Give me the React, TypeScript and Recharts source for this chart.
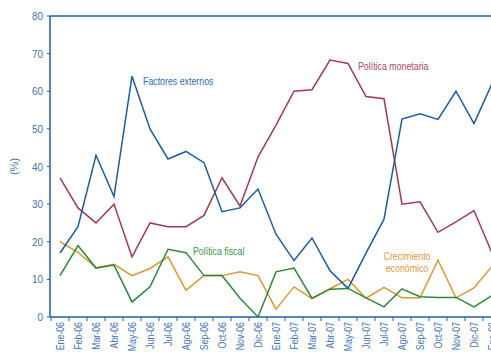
import { LineChart, Line, XAxis, YAxis, ReferenceLine } from "recharts"

const months = [
  "Ene-06", "Feb-06", "Mar-06", "Abr-06", "May-06", "Jun-06", "Jul-06", "Ago-06",
  "Sep-06", "Oct-06", "Nov-06", "Dic-06", "Ene-07", "Feb-07", "Mar-07", "Abr-07",
  "May-07", "Jun-07", "Jul-07", "Ago-07", "Sep-07", "Oct-07", "Nov-07", "Dic-07", "Ene-08",
]

const factoresExternos = [
  17, 24, 43, 32, 64, 50, 42, 44, 41, 28, 29, 34, 22, 15, 21, 12.3, 7.6, 17, 26, 52.6, 54, 52.5,
  60, 51.4, 62,
]
const politicaMonetaria = [
  37, 29, 25, 30, 16, 25, 24, 24, 27, 37, 29.5, 42.5, 51, 60, 60.4, 68.3, 67.4, 58.6, 58, 30,
  30.6, 22.5, 25.3, 28.3, 17,
]
const crecimientoEconomico = [
  20, 17.2, 13.1, 14, 11, 12.9, 16, 7.1, 11, 11, 12, 11, 2.1, 8, 4.9, 7.5, 10, 5, 7.9, 5.1, 5.1,
  15.1, 5.1, 7.7, 13.5,
]
const politicaFiscal = [
  11, 19, 13, 13.8, 4, 8, 18, 17.1, 11, 11, 5, 0, 12, 13, 5, 7.4, 7.6, 5.1, 2.7, 7.5, 5.4, 5.2,
  5.2, 2.7, 5.7,
]

const yTicks = [0, 10, 20, 30, 40, 50, 60, 70, 80]

const data = months.map((m, i) => ({
  mes: m,
  externos: factoresExternos[i],
  monetaria: politicaMonetaria[i],
  crecimiento: crecimientoEconomico[i],
  fiscal: politicaFiscal[i],
}))

const FONT = "'Liberation Sans', Arial, sans-serif"
const AXIS = "#1f5ea8"
const TICK_TEXT = "#3e72b6"
const NARROW = 0.8

function MonthTick(props: any) {
  const { x, y, payload, index } = props
  const half = 9
  return (
    <g>
      <line x1={x - half} x2={x - half} y1={y} y2={y + 4} stroke={AXIS} strokeWidth={1} />
      {index === months.length - 1 && (
        <line x1={x + half} x2={x + half} y1={y} y2={y + 4} stroke={AXIS} strokeWidth={1} />
      )}
      <text
        transform={`translate(${x + 4},${y + 5}) rotate(-90) scale(${NARROW},1)`}
        textAnchor="end"
        fontSize={11}
        fontFamily={FONT}
        fill={TICK_TEXT}
      >
        {payload.value}
      </text>
    </g>
  )
}

function ValueTick(props: any) {
  const { x, y, payload } = props
  return (
    <text
      transform={`translate(${x},${y + 4}) scale(0.9,1)`}
      textAnchor="end"
      fontSize={11}
      fontFamily={FONT}
      fill={TICK_TEXT}
    >
      {payload.value}
    </text>
  )
}

const labelStyle = (color: string, left: number, top: number): any => ({
  position: "absolute",
  left,
  top,
  color,
  fontFamily: FONT,
  fontSize: 11,
  lineHeight: "12px",
  whiteSpace: "nowrap",
  transform: `scaleX(${NARROW})`,
  transformOrigin: "left top",
})

export default function App() {
  return (
    <div
      style={{
        position: "absolute",
        left: 0,
        top: 0,
        width: 491,
        height: 352,
        overflow: "hidden",
        background: "#fff",
      }}
    >
      <LineChart
        width={500}
        height={352}
        data={data}
        margin={{ top: 16, right: 0, bottom: 0, left: 0 }}
      >
        <XAxis
          dataKey="mes"
          interval={0}
          padding={{ left: 10, right: 8 }}
          height={35}
          tickSize={0}
          tickMargin={0}
          tick={<MonthTick />}
          axisLine={{ stroke: AXIS, strokeWidth: 1.5 }}
        />
        <YAxis
          width={50}
          domain={[0, 80]}
          ticks={yTicks}
          interval={0}
          tickSize={3}
          tickMargin={4}
          axisLine={{ stroke: AXIS, strokeWidth: 1.5 }}
          tickLine={{ stroke: AXIS }}
          tick={<ValueTick />}
          label={{
            value: "(%)",
            angle: -90,
            position: "insideLeft",
            offset: 14,
            fill: TICK_TEXT,
            fontSize: 11,
            fontFamily: FONT,
            style: { textAnchor: "middle" },
          }}
        />
        <ReferenceLine y={80} stroke={AXIS} strokeWidth={1.5} />
        <Line
          dataKey="monetaria"
          stroke="#a63a4c"
          strokeWidth={1.5}
          dot={false}
          isAnimationActive={false}
        />
        <Line
          dataKey="crecimiento"
          stroke="#e0962e"
          strokeWidth={1.5}
          dot={false}
          isAnimationActive={false}
        />
        <Line
          dataKey="fiscal"
          stroke="#2b8a3a"
          strokeWidth={1.5}
          dot={false}
          isAnimationActive={false}
        />
        <Line
          dataKey="externos"
          stroke="#1a5ca8"
          strokeWidth={1.5}
          dot={false}
          isAnimationActive={false}
        />
      </LineChart>
      <span style={labelStyle("#2f69b3", 143, 75)}>Factores externos</span>
      <span style={labelStyle("#ad4a5a", 358, 60)}>Política monetaria</span>
      <span style={labelStyle("#3a9448", 193, 245)}>Política fiscal</span>
      <span
        style={{
          ...labelStyle("#dc9a3c", 361, 250),
          width: 92,
          textAlign: "center",
          transformOrigin: "center top",
        }}
      >
        Crecimiento
        <br />
        económico
      </span>
    </div>
  )
}
